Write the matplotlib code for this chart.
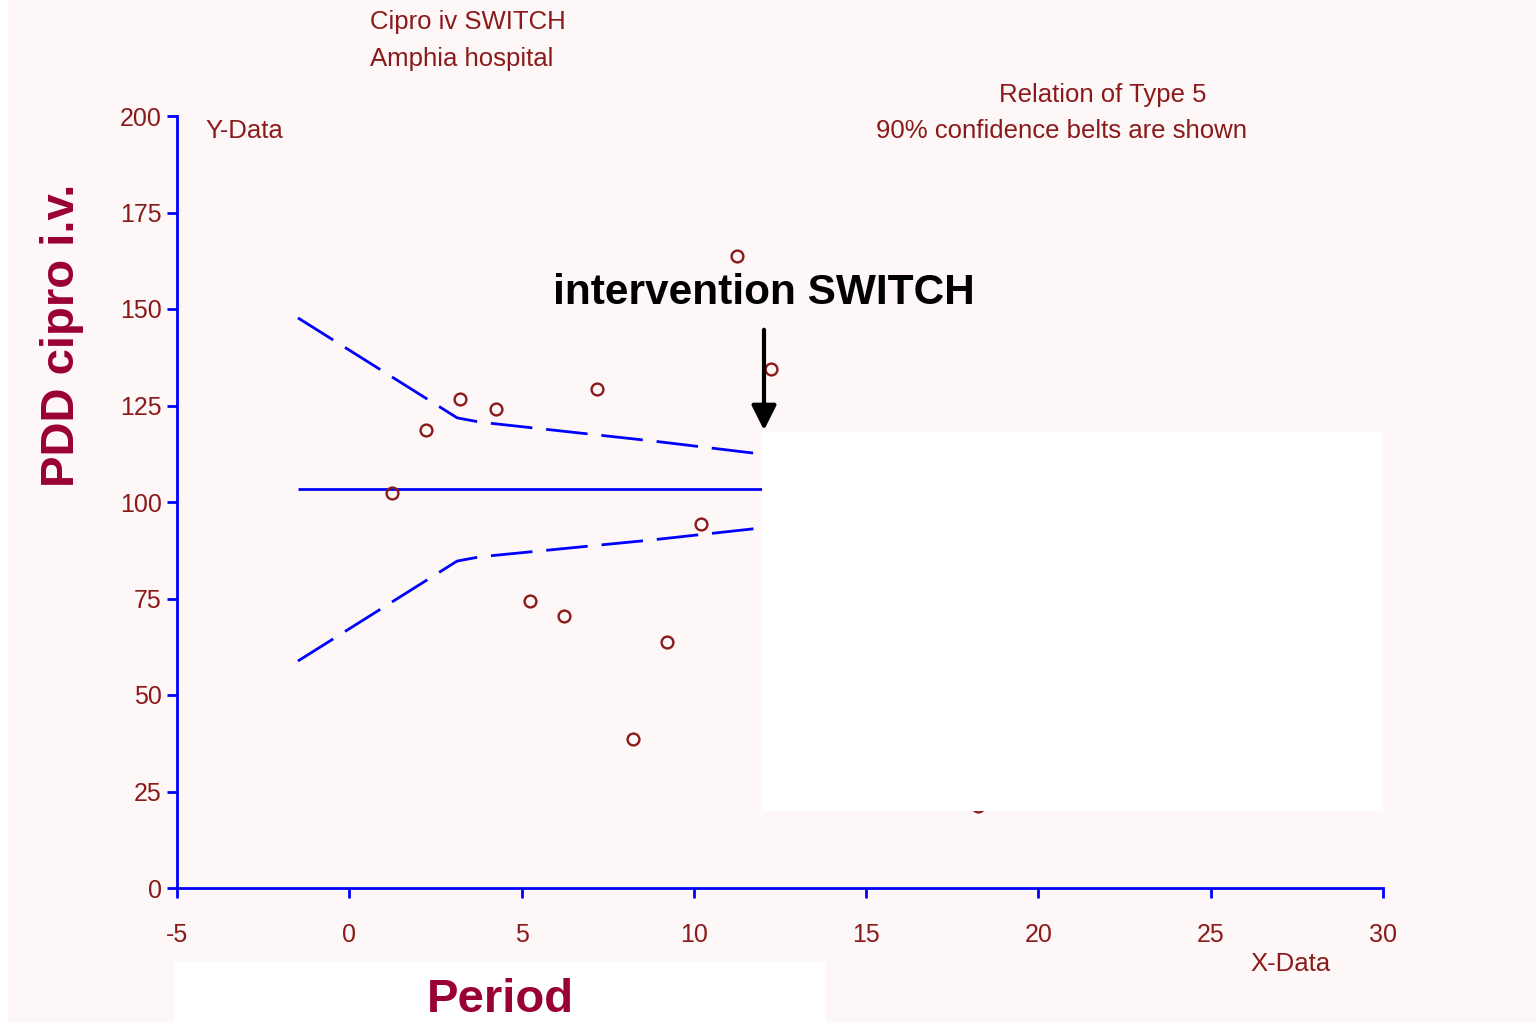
import matplotlib
matplotlib.use("Agg")
import matplotlib.pyplot as plt
from matplotlib.patches import Rectangle, FancyArrowPatch

plt.rcParams["axes.unicode_minus"] = False

# ---- data ----
period = [1.24, 2.23, 3.21, 4.26, 5.24, 6.23, 7.19, 8.23, 9.22, 10.21, 11.25, 12.24, 18.24]
pdd = [102.3, 118.7, 126.7, 124.1, 74.4, 70.5, 129.3, 38.6, 63.7, 94.3, 163.7, 134.5, 21.2]

mean_x = [-1.49, 11.98]
mean_y = [103.4, 103.4]

belt_x = [-1.49, 3.13, 3.79, 8.81, 11.98]
belt_upper = [147.7, 121.8, 120.7, 115.8, 112.4]
belt_lower = [58.8, 84.7, 85.8, 90.2, 93.3]

x_ticks = [-5, 0, 5, 10, 15, 20, 25, 30]
y_ticks = [0, 25, 50, 75, 100, 125, 150, 175, 200]

BG = "#fdf7f7"
DARKRED = "#8b1a1a"
TITLERED = "#990033"
BLUE = "#0000ff"

W, H = 1536, 1023
fig = plt.figure(figsize=(W / 100, H / 100), dpi=100)
fig.patch.set_facecolor(BG)
fig.patches.append(Rectangle((0, 0), 8 / W, 1, transform=fig.transFigure,
                             facecolor="white", edgecolor="none", zorder=0))

ax = fig.add_axes([177 / W, 1 - 888 / H, (1383 - 177) / W, (888 - 116) / H])
ax.set_facecolor(BG)
ax.set_xlim(-5, 30)
ax.set_ylim(0, 200)
for s in ["top", "right"]:
    ax.spines[s].set_visible(False)
for s in ["left", "bottom"]:
    ax.spines[s].set_color(BLUE)
    ax.spines[s].set_linewidth(2)
ax.set_xticks(x_ticks)
ax.set_yticks(y_ticks)
ax.tick_params(axis="both", colors=BLUE, width=2, length=7, direction="out",
               labelcolor=DARKRED, labelsize=18)
ax.tick_params(axis="x", pad=18)
ax.tick_params(axis="y", pad=4)
for lab in ax.get_xticklabels() + ax.get_yticklabels():
    lab.set_family("Liberation Sans")

# lines
ax.plot(mean_x, mean_y, color=BLUE, lw=2, solid_capstyle="butt")
ax.plot(belt_x, belt_upper, color=BLUE, lw=2, dashes=(15, 5))
ax.plot(belt_x, belt_lower, color=BLUE, lw=2, dashes=(15, 5))

# points
ax.plot(period, pdd, linestyle="none", marker="o", markersize=8.5,
        markerfacecolor="none", markeredgecolor=DARKRED, markeredgewidth=1.7,
        zorder=3)

# white cover box
fig.patches.append(Rectangle((762 / W, 1 - 811 / H), (1383 - 762) / W, (811 - 432) / H,
                             transform=fig.transFigure, facecolor="white",
                             edgecolor="none", zorder=5))
# white box behind "Period"
fig.patches.append(Rectangle((175 / W, 0), (825 - 175) / W, (H - 962) / H,
                             transform=fig.transFigure, facecolor="white",
                             edgecolor="none", zorder=1))

txt = dict(color=DARKRED, fontsize=18.5, family="Liberation Sans")
fig.text(370 / W, 1 - 22 / H, "Cipro iv SWITCH", ha="left", va="center", **txt)
fig.text(370 / W, 1 - 59 / H, "Amphia hospital", ha="left", va="center", **txt)
fig.text(1103 / W, 1 - 95 / H, "Relation of Type 5", ha="center", va="center", **txt)
fig.text(1062 / W, 1 - 131 / H, "90% confidence belts are shown", ha="center", va="center", **txt)
fig.text(205 / W, 1 - 131 / H, "Y-Data", ha="left", va="center", **txt)
fig.text(1290 / W, 1 - 964 / H, "X-Data", ha="center", va="center", **txt)

fig.text(764 / W, 1 - 293 / H, "intervention SWITCH", ha="center", va="center",
         color="black", fontsize=30.5, fontweight="bold", family="Liberation Sans",
         zorder=6)
fig.patches.append(FancyArrowPatch(
    (764 / W, 1 - 327 / H), (764 / W, 1 - 433 / H), transform=fig.transFigure,
    arrowstyle="-|>,head_length=10,head_width=5", color="black", lw=3,
    mutation_scale=1.5, zorder=7))

fig.text(62 / W, 1 - 335 / H, "PDD cipro i.v.", ha="center", va="center",
         rotation=90, color=TITLERED, fontsize=34, fontweight="bold",
         family="Liberation Sans")
fig.text(500 / W, 1 - 1000 / H, "Period", ha="center", va="center",
         color=TITLERED, fontsize=34, fontweight="bold",
         family="Liberation Sans", zorder=6)

fig.savefig("out.png", dpi=100, facecolor=fig.get_facecolor())
